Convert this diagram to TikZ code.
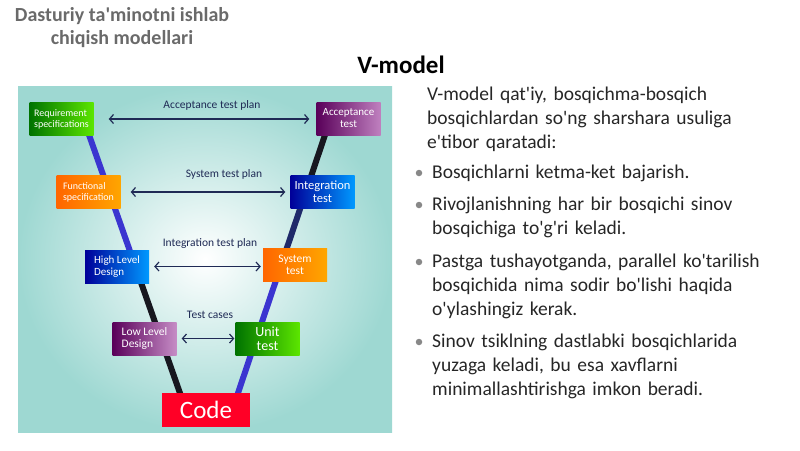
\documentclass[tikz,border=0pt]{standalone}
\usepackage{fontspec}
\setmainfont[Ligatures=TeXOff]{Carlito}
\usepackage{xcolor}
\usetikzlibrary{arrows.meta,positioning,calc}
\definecolor{txt}{HTML}{262626}
\definecolor{ttl}{HTML}{6A6A6A}
\definecolor{pl}{HTML}{1F2A55}
\definecolor{vb}{HTML}{3B35D0}
\definecolor{vn}{HTML}{1F2A6A}
\definecolor{vk}{HTML}{17171F}
\definecolor{bg}{HTML}{9ED8D2}
\tikzset{
  vbox/.style={minimum width=64pt, minimum height=33pt, inner sep=2pt, text=white,
    font=\fontsize{10}{11}\selectfont, align=left},
  vboxr/.style={vbox, align=center},
  plan/.style={{Straight Barb[length=4pt,width=9pt]}-{Straight Barb[length=4pt,width=9pt]},
    draw=pl, line width=1.2pt},
  planlbl/.style={text=pl, font=\fontsize{11.5}{13}\selectfont},
  arm/.style={line width=6pt},
  para/.style={anchor=base west, inner sep=0pt, text width=370pt, align=left,
    text=txt, font=\fontsize{19.5}{24}\selectfont},
  bul/.style={circle, fill=ttl!80, inner sep=0pt, minimum size=6.5pt}
}
\begin{document}
\begin{tikzpicture}[x=1pt,y=-1pt]
  \useasboundingbox (0,0) rectangle (800,450);
  % heading
  \node[text=ttl, font=\fontsize{20}{23}\selectfont\bfseries, align=center] (head) at (122,28)
    {Dasturiy ta'minotni ishlab\\chiqish modellari};
  \node[text=black, font=\fontsize{25}{28}\selectfont\bfseries] (vtitle) at (401,65) {V-model};
  % diagram panel
  \shade[inner color=white, outer color=bg] (18,86) rectangle (392,432);
  % V arms
  \coordinate (lt) at (88,132);
  \coordinate (lm) at ($(lt)!0.5!(181,396)$);
  \coordinate (lb) at (181,396);
  \coordinate (rb) at (237,396);
  \coordinate (rm) at ($(rb)!0.5!(326,132)$);
  \coordinate (rq) at ($(rb)!0.78!(326,132)$);
  \coordinate (rt) at (326,132);
  \draw[arm, vb] (lt) -- (lm);
  \draw[arm, vk] (lm) -- (lb);
  \draw[arm, vb] (rb) -- (rm);
  \draw[arm, vn] (rm) -- (rq);
  \draw[arm, vk] (rq) -- (rt);
  % phase boxes
  \node[vbox, left color=green!45!black, right color=green!60!yellow!90!black] (req) at (61.5,119)
    {Requirement\\specifications};
  \node[vboxr, left color=violet!70!black, right color=violet!50!white,
    font=\fontsize{11}{12}\selectfont] (acc) at (348.5,118.5)
    {Acceptance\\test};
  \node[vbox, left color=orange!80!red, right color=orange!70!yellow] (fun) at (88.5,192)
    {Functional\\specification};
  \node[vboxr, left color=blue!60!black, right color=cyan!60!blue,
    font=\fontsize{12.5}{13}\selectfont] (integ) at (322.5,191.5)
    {Integration\\test};
  \node[vbox, left color=blue!60!black, right color=cyan!60!blue,
    font=\fontsize{11}{12}\selectfont] (hld) at (117,266.5)
    {High Level\\Design};
  \node[vboxr, left color=orange!80!red, right color=orange!70!yellow,
    font=\fontsize{11.5}{12}\selectfont] (sys) at (295,264.5)
    {System\\test};
  \node[vbox, left color=violet!70!black, right color=violet!45!white,
    font=\fontsize{11.5}{12}\selectfont] (lld) at (144.5,338.5)
    {Low Level\\Design};
  \node[vboxr, left color=green!45!black, right color=green!60!yellow!90!black,
    font=\fontsize{14}{14}\selectfont] (unit) at (267.5,338.5)
    {Unit\\test};
  \node[vboxr, fill=red!85!magenta, minimum width=88pt, minimum height=34pt,
    font=\fontsize{25}{26}\selectfont] (code) at (206,410) {Code};
  % test plans
  \draw[plan, shorten <=15pt, shorten >=7pt] (req.east) -- (req.east -| acc.west);
  \draw[plan, shorten <=10pt, shorten >=5pt] (fun.east) -- (fun.east -| integ.west);
  \draw[plan, shorten <=5pt, shorten >=2pt] (hld.east) -- (hld.east -| sys.west);
  \draw[plan, shorten <=5pt, shorten >=1pt] (lld.east) -- (lld.east -| unit.west);
  \node[planlbl] (p1) at (212,105) {Acceptance test plan};
  \node[planlbl] (p2) at (224,174) {System test plan};
  \node[planlbl] (p3) at (210,243) {Integration test plan};
  \node[planlbl] (p4) at (210,315) {Test cases};
  % text on the right
  \node[para] (intro) at (427,100)
    {V-model qat'iy, bosqichma-bosqich\\bosqichlardan so'ng sharshara usuliga\\e'tibor qaratadi:};
  \node[bul] (b1) at (419,173) {};
  \node[para] (t1) at (432,178) {Bosqichlarni ketma-ket bajarish.};
  \node[bul] (b2) at (419,205) {};
  \node[para] (t2) at (432,210)
    {Rivojlanishning har bir bosqichi sinov\\bosqichiga to'g'ri keladi.};
  \node[bul] (b3) at (419,262) {};
  \node[para] (t3) at (432,267)
    {Pastga tushayotganda, parallel ko'tarilish\\bosqichida nima sodir bo'lishi haqida\\o'ylashingiz kerak.};
  \node[bul] (b4) at (419,342) {};
  \node[para] (t4) at (432,347)
    {Sinov tsiklning dastlabki bosqichlarida\\yuzaga keladi, bu esa xavflarni\\minimallashtirishga imkon beradi.};
\end{tikzpicture}
\end{document}
